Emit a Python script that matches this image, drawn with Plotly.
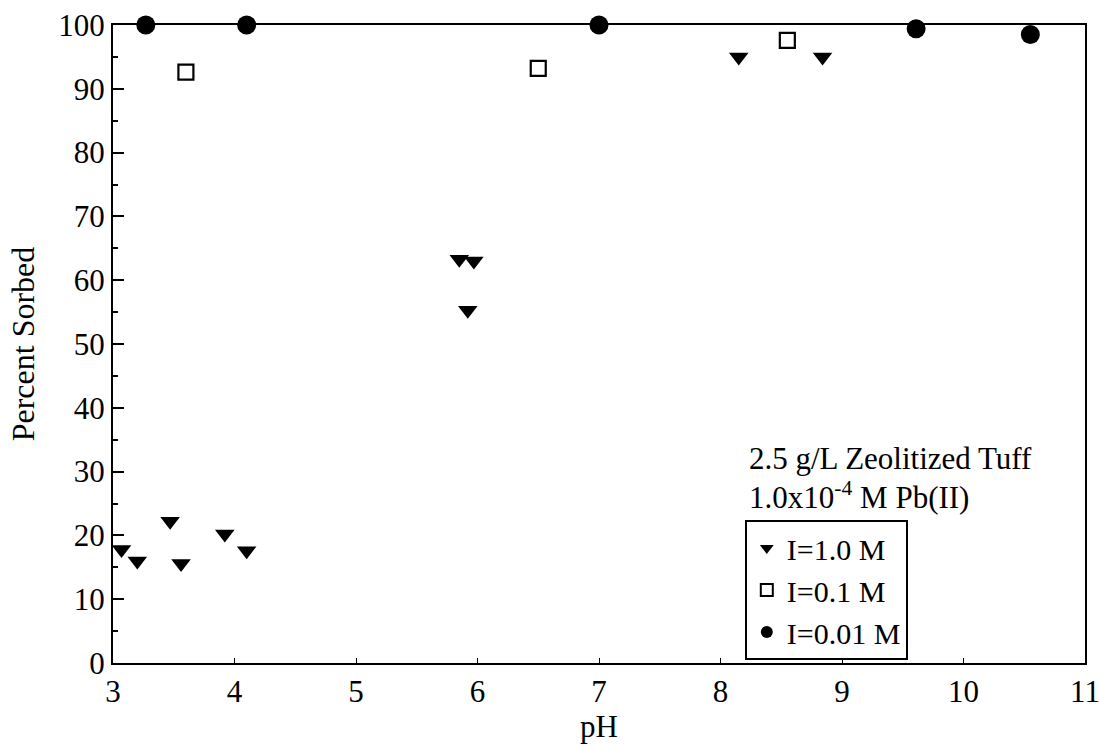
import plotly.graph_objects as go

# Data
ph_10M = [3.07, 3.20, 3.47, 3.56, 3.92, 4.10, 5.85, 5.97, 5.92, 8.15, 8.84]
sorb_10M = [17.8, 16.0, 22.2, 15.6, 20.2, 17.6, 63.3, 63.0, 55.3, 95.0, 95.0]

ph_01M = [3.60, 6.50, 8.55]
sorb_01M = [92.6, 93.2, 97.6]

ph_001M = [3.27, 4.10, 7.00, 9.61, 10.55]
sorb_001M = [100.0, 100.0, 100.0, 99.4, 98.5]

names = ["I=1.0 M", "I=0.1 M", "I=0.01 M"]
x_ticks = [3, 4, 5, 6, 7, 8, 9, 10, 11]
y_ticks = [0, 10, 20, 30, 40, 50, 60, 70, 80, 90, 100]

FONT = "Liberation Serif"

fig = go.Figure()
fig.add_trace(go.Scatter(
    x=ph_10M, y=sorb_10M, mode="markers", name=names[0], cliponaxis=False,
    marker=dict(symbol="triangle-down", size=17, color="black", line=dict(width=0)),
))
fig.add_trace(go.Scatter(
    x=ph_01M, y=sorb_01M, mode="markers", name=names[1], cliponaxis=False,
    marker=dict(symbol="square-open", size=15, color="black", line=dict(width=2.2)),
))
fig.add_trace(go.Scatter(
    x=ph_001M, y=sorb_001M, mode="markers", name=names[2], cliponaxis=False,
    marker=dict(symbol="circle", size=19, color="black", line=dict(width=0)),
))

axis_common = dict(
    showline=True, linecolor="black", linewidth=2, mirror=True,
    showgrid=False, zeroline=False, ticks="inside", tickcolor="black",
    tickfont=dict(family=FONT, size=31, color="black"),
    automargin=False,
)

fig.update_xaxes(
    range=[3, 11], tickvals=x_ticks, ticklen=5, tickwidth=1,
    ticklabeloverflow="allow",
    title=dict(text="pH", font=dict(family=FONT, size=31, color="black"), standoff=2),
    **axis_common,
)
fig.update_yaxes(
    range=[0, 100], tickvals=y_ticks, ticklen=11, tickwidth=2,
    minor=dict(dtick=5, ticks="inside", ticklen=5, tickcolor="black", tickwidth=1.5),
    title=dict(text="Percent Sorbed", font=dict(family=FONT, size=32, color="black"), standoff=14),
    **axis_common,
)

fig.add_annotation(
    xref="paper", yref="paper", x=0.652, y=0.320, xanchor="left", yanchor="middle",
    text="2.5 g/L Zeolitized Tuff", showarrow=False,
    font=dict(family=FONT, size=31, color="black"),
)
fig.add_annotation(
    xref="paper", yref="paper", x=0.652, y=0.262, xanchor="left", yanchor="middle",
    text="1.0x10<sup>-4</sup> M Pb(II)", showarrow=False,
    font=dict(family=FONT, size=31, color="black"),
)

fig.update_layout(
    width=1099, height=750,
    margin=dict(l=113, r=14, t=25, b=87),
    paper_bgcolor="white", plot_bgcolor="white",
    showlegend=True,
    legend=dict(
        x=0.650, y=0.224, xanchor="left", yanchor="top",
        bordercolor="black", borderwidth=2, bgcolor="white",
        font=dict(family=FONT, size=30, color="black"),
        itemsizing="constant", itemwidth=30,
    ),
)

fig.write_html("out.html")
